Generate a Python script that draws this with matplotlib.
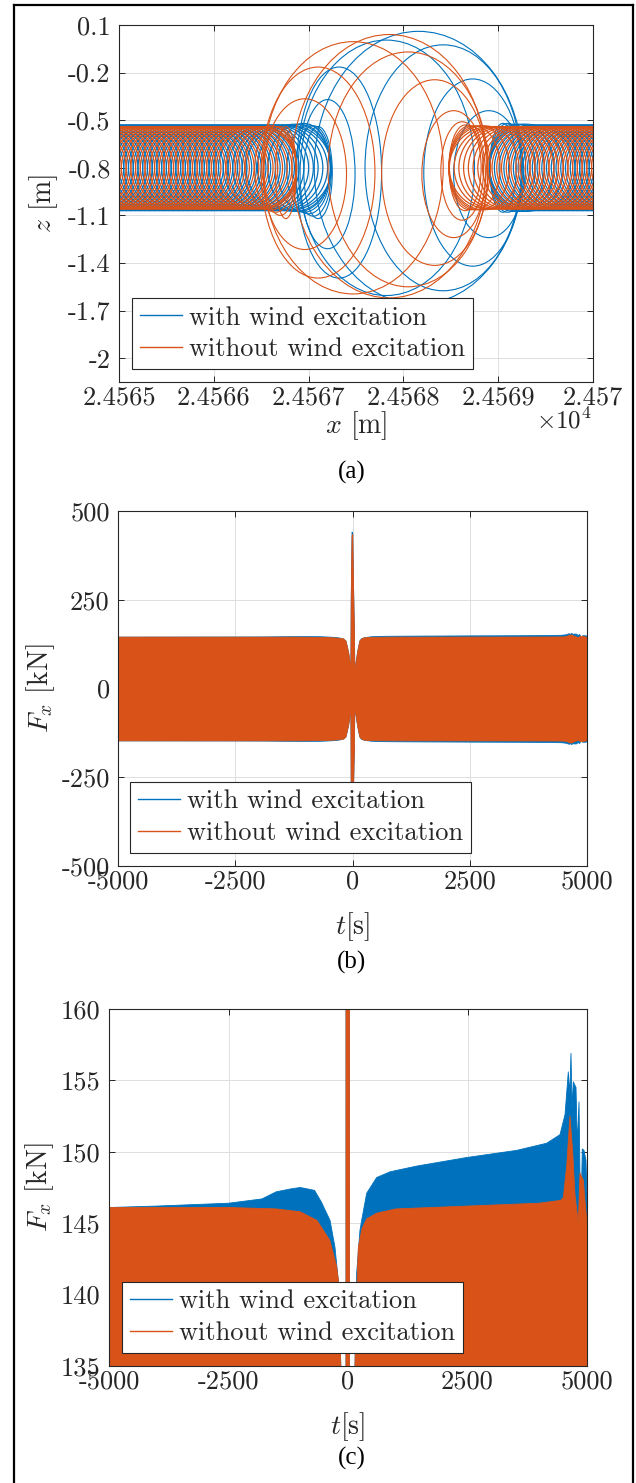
import matplotlib
matplotlib.use("Agg")
import matplotlib.pyplot as plt
from matplotlib.patches import Ellipse
from matplotlib.lines import Line2D

plt.rcParams['font.family'] = ['cmr10', 'DejaVu Serif']
plt.rcParams['mathtext.fontset'] = 'cm'
plt.rcParams['axes.unicode_minus'] = False
plt.rcParams['axes.formatter.use_mathtext'] = True

BLUE = '#0072BD'
RED = '#D95319'
INK = '#262626'
GRID = '#dedede'

# ---------------- (a) trajectory in the x-z plane ----------------
# orbits drawn as ellipses: centre x [m], width [m], height [m], centre z [m]
blue_tube_left_cx = [24564.55, 24564.60, 24564.65, 24564.70, 24564.75, 24564.80, 24564.85, 24564.90,
                     24564.95, 24565.00, 24565.05, 24565.10, 24565.15, 24565.20, 24565.25, 24565.30,
                     24565.35, 24565.40, 24565.45, 24565.50, 24565.55, 24565.60, 24565.65, 24565.70,
                     24565.75, 24565.80, 24565.85, 24565.90, 24565.95, 24566.00, 24566.05, 24566.10,
                     24566.15, 24566.20, 24566.25, 24566.30, 24566.35, 24566.40, 24566.45, 24566.50,
                     24566.55, 24566.60, 24566.65, 24566.70, 24566.75, 24566.79]
blue_tube_right_cx = [24569.36, 24569.41, 24569.46, 24569.51, 24569.56, 24569.61, 24569.66, 24569.71,
                      24569.76, 24569.81, 24569.86, 24569.91, 24569.96, 24570.01, 24570.06, 24570.11,
                      24570.16, 24570.21, 24570.26, 24570.31, 24570.36, 24570.41, 24570.46]
red_tube_left_cx = [24564.55, 24564.60, 24564.65, 24564.70, 24564.75, 24564.80, 24564.85, 24564.90,
                    24564.95, 24565.00, 24565.05, 24565.10, 24565.15, 24565.20, 24565.25, 24565.30,
                    24565.35, 24565.40, 24565.45, 24565.50, 24565.55, 24565.60, 24565.65, 24565.70,
                    24565.75, 24565.80, 24565.85, 24565.90, 24565.95, 24566.00, 24566.05, 24566.10,
                    24566.15, 24566.20, 24566.25, 24566.30, 24566.35, 24566.40, 24566.45]
red_tube_right_cx = [24568.91, 24568.96, 24569.01, 24569.06, 24569.11, 24569.16, 24569.21, 24569.26,
                     24569.31, 24569.36, 24569.41, 24569.46, 24569.51, 24569.56, 24569.61, 24569.66,
                     24569.71, 24569.76, 24569.81, 24569.86, 24569.91, 24569.96, 24570.01, 24570.06,
                     24570.11, 24570.16, 24570.21, 24570.26, 24570.31, 24570.36, 24570.41, 24570.46]
blue_tube_w, blue_tube_h = 0.90, 0.54
red_tube_w, red_tube_h = 0.85, 0.52
tube_cz = -0.80

blue_orbit_cx = [24566.85, 24566.90, 24566.95, 24567.00, 24567.05, 24567.10, 24567.20, 24567.32, 24567.82,
                 24568.16, 24568.42, 24568.73, 24568.90, 24569.05, 24569.10, 24569.15, 24569.20, 24569.25, 24569.30]
blue_orbit_w = [0.78, 0.66, 0.56, 0.46, 0.38, 0.30, 0.58, 0.90, 1.86,
                2.20, 1.65, 1.03, 0.74, 0.28, 0.38, 0.48, 0.58, 0.68, 0.78]
blue_orbit_h = [0.55, 0.55, 0.56, 0.56, 0.57, 0.58, 0.94, 1.33, 1.61,
                1.72, 1.55, 1.18, 0.80, 0.56, 0.56, 0.55, 0.55, 0.55, 0.55]
blue_orbit_cz = [-0.80, -0.80, -0.80, -0.81, -0.82, -0.83, -0.84, -0.83, -0.80,
                 -0.80, -0.80, -0.83, -0.84, -0.80, -0.80, -0.80, -0.80, -0.80, -0.80]

red_orbit_cx = [24566.50, 24566.55, 24566.60, 24566.65, 24566.70, 24566.76, 24566.96, 24567.10, 24567.47,
                24567.85, 24568.05, 24568.33, 24568.53, 24568.62, 24568.65, 24568.70, 24568.75, 24568.80, 24568.85]
red_orbit_w = [0.74, 0.64, 0.54, 0.44, 0.34, 0.22, 0.88, 1.20, 1.90,
               2.05, 1.69, 1.12, 0.67, 0.45, 0.34, 0.44, 0.54, 0.64, 0.74]
red_orbit_h = [0.52, 0.52, 0.53, 0.54, 0.56, 0.58, 0.95, 1.33, 1.59,
               1.66, 1.48, 1.17, 0.80, 0.62, 0.54, 0.53, 0.53, 0.53, 0.53]
red_orbit_cz = [-0.80, -0.80, -0.80, -0.81, -0.82, -0.83, -0.84, -0.83, -0.80,
                -0.79, -0.81, -0.83, -0.84, -0.82, -0.80, -0.80, -0.80, -0.80, -0.80]

xa_ticks = [24565, 24566, 24567, 24568, 24569, 24570]
xa_labels = ['2.4565', '2.4566', '2.4567', '2.4568', '2.4569', '2.457']
za_ticks = [0.1, -0.2, -0.5, -0.8, -1.1, -1.4, -1.7, -2.0]
za_labels = ['0.1', '-0.2', '-0.5', '-0.8', '-1.1', '-1.4', '-1.7', '-2']

# ---------------- (b), (c) horizontal force envelopes ----------------
blue_t = [-5000, -4000, -2500, -1800, -1500, -1200, -1000, -700, -560, -376, -272, -203, -150, -120,
          -90, -60, -45, -38, -20, -5, 10, 30, 38, 60, 100, 146, 181, 250, 286, 391, 600, 880, 1437,
          2483, 3529, 4156, 4435, 4540, 4609, 4640, 4665, 4690, 4714, 4770, 4798, 4833, 4868, 4902,
          4937, 4979, 5000]
blue_upper = [146.1, 146.2, 146.4, 146.7, 147.2, 147.4, 147.5, 147.3, 146.5, 145.2, 143.3, 141.0, 135.0,
              118.0, 100.0, 70.0, 60.0, 250.0, 442.0, 438.0, 300.0, 165.0, 60.0, 70.0, 105.0, 135.0,
              141.5, 144.5, 145.2, 147.1, 148.2, 148.6, 149.0, 149.6, 150.1, 150.6, 151.2, 152.6, 155.6,
              154.0, 156.9, 153.0, 154.9, 154.5, 150.5, 153.5, 144.6, 150.2, 150.1, 149.4, 147.0]
blue_lower = [-146.1, -146.2, -146.4, -146.7, -147.2, -147.4, -147.5, -147.3, -146.5, -145.2, -143.3,
              -141.0, -135.0, -118.0, -100.0, -70.0, -60.0, -290.0, -290.0, -290.0, -290.0, -165.0, -60.0,
              -70.0, -105.0, -135.0, -141.5, -144.5, -145.2, -147.1, -148.2, -148.6, -149.0, -149.6,
              -150.1, -150.6, -151.2, -152.6, -155.6, -154.0, -156.9, -153.0, -154.9, -154.5, -150.5,
              -153.5, -144.6, -150.2, -150.1, -149.4, -147.0]

red_t = [-5000, -2500, -1500, -1000, -650, -380, -240, -200, -150, -120, -90, -60, -45, -38, -20, -5,
         10, 30, 38, 60, 100, 146, 180, 216, 290, 390, 600, 1000, 2500, 4000, 4450, 4505, 4575, 4644,
         4700, 4749, 4818, 4853, 4923, 4960, 5000]
red_upper = [146.1, 146.1, 146.0, 145.8, 145.2, 143.8, 142.0, 141.0, 135.0, 118.0, 100.0, 70.0, 60.0,
             250.0, 430.0, 435.0, 300.0, 165.0, 60.0, 70.0, 105.0, 135.0, 140.0, 143.3, 144.6, 145.3,
             145.7, 146.0, 146.2, 146.4, 146.6, 146.8, 149.0, 152.5, 150.0, 147.0, 145.0, 148.5, 148.0,
             146.5, 145.0]
red_lower = [-146.1, -146.1, -146.0, -145.8, -145.2, -143.8, -142.0, -141.0, -135.0, -118.0, -100.0,
             -70.0, -60.0, -290.0, -290.0, -290.0, -290.0, -165.0, -60.0, -70.0, -105.0, -135.0, -140.0,
             -143.3, -144.6, -145.3, -145.7, -146.0, -146.2, -146.4, -146.6, -146.8, -149.0, -152.5,
             -150.0, -147.0, -145.0, -148.5, -148.0, -146.5, -145.0]

t_ticks = [-5000, -2500, 0, 2500, 5000]
t_labels = ['-5000', '-2500', '0', '2500', '5000']
fb_ticks = [-500, -250, 0, 250, 500]
fb_labels = ['-500', '-250', '0', '250', '500']
fc_ticks = [135, 140, 145, 150, 155, 160]
fc_labels = ['135', '140', '145', '150', '155', '160']

legend_labels = ['with wind excitation', 'without wind excitation']

W, H = 636, 1483
fig = plt.figure(figsize=(W / 100, H / 100), dpi=100)


def add_axes_px(left, top, right, bottom):
    return fig.add_axes([left / W, 1 - bottom / H, (right - left) / W, (bottom - top) / H])


def style_axes(ax):
    ax.set_axisbelow(True)
    ax.grid(True, color=GRID, lw=0.7)
    for s in ax.spines.values():
        s.set_color(INK)
        s.set_linewidth(0.8)
    ax.tick_params(direction='in', length=4, width=0.7, color=INK, labelcolor=INK,
                   labelsize=19, top=True, right=True)
    ax.tick_params(axis='x', pad=3)
    ax.tick_params(axis='y', pad=6)


def add_legend(ax, x, y):
    handles = [Line2D([], [], color=BLUE, lw=1.0), Line2D([], [], color=RED, lw=1.0)]
    leg = ax.legend(handles, legend_labels, loc='lower left', bbox_to_anchor=(x, y),
                    fontsize=19, frameon=True, fancybox=False, framealpha=1,
                    edgecolor=INK, handlelength=1.6, handletextpad=0.25,
                    borderpad=0.3, labelspacing=0.3, borderaxespad=0)
    leg.get_frame().set_linewidth(0.8)
    for txt in leg.get_texts():
        txt.set_color(INK)


# (a)
ax = add_axes_px(119, 25, 593, 382)
style_axes(ax)
for cx in blue_tube_left_cx + blue_tube_right_cx:
    ax.add_patch(Ellipse((cx, tube_cz), blue_tube_w, blue_tube_h, fill=False, ec=BLUE, lw=0.9))
for cx, w, h, cz in zip(blue_orbit_cx, blue_orbit_w, blue_orbit_h, blue_orbit_cz):
    ax.add_patch(Ellipse((cx, cz), w, h, fill=False, ec=BLUE, lw=0.8))
for cx in red_tube_left_cx + red_tube_right_cx:
    ax.add_patch(Ellipse((cx, tube_cz), red_tube_w, red_tube_h, fill=False, ec=RED, lw=0.9))
for cx, w, h, cz in zip(red_orbit_cx, red_orbit_w, red_orbit_h, red_orbit_cz):
    ax.add_patch(Ellipse((cx, cz), w, h, fill=False, ec=RED, lw=0.8))
ax.set_xlim(24565, 24570)
ax.set_ylim(-2.15, 0.1)
ax.set_xticks(xa_ticks)
ax.set_xticklabels(xa_labels)
ax.set_yticks(za_ticks)
ax.set_yticklabels(za_labels)
ax.set_xlabel(r'$x$ [m]', fontsize=20, color=INK)
ax.set_ylabel(r'$z$ [m]', fontsize=20, color=INK)
ax.xaxis.set_label_coords(0.5, -0.075)
ax.yaxis.set_label_coords(-0.124, 0.5)
add_legend(ax, 0.027, 0.036)
fig.text(592 / W, 1 - 421 / H, r'$\times10^{4}$', ha='right', va='center', fontsize=18, color=INK)

# (b)
ax = add_axes_px(118, 511, 587, 866)
style_axes(ax)
ax.fill_between(blue_t, blue_lower, blue_upper, color=BLUE, lw=0.6)
ax.fill_between(red_t, red_lower, red_upper, color=RED, lw=0.6)
ax.set_xlim(-5000, 5000)
ax.set_ylim(-500, 500)
ax.set_xticks(t_ticks)
ax.set_xticklabels(t_labels)
ax.set_yticks(fb_ticks)
ax.set_yticklabels(fb_labels)
ax.set_xlabel(r'$t$[s]', fontsize=20, color=INK)
ax.set_ylabel(r'$F_x$ [kN]', fontsize=20, color=INK)
ax.xaxis.set_label_coords(0.5, -0.125)
ax.yaxis.set_label_coords(-0.130, 0.5)
add_legend(ax, 0.026, 0.037)

# (c)
ax = add_axes_px(109, 1009, 587, 1366)
style_axes(ax)
ax.fill_between(blue_t, blue_lower, blue_upper, color=BLUE, lw=0.6)
ax.fill_between(red_t, red_lower, red_upper, color=RED, lw=0.6)
ax.set_xlim(-5000, 5000)
ax.set_ylim(135, 160)
ax.set_xticks(t_ticks)
ax.set_xticklabels(t_labels)
ax.set_yticks(fc_ticks)
ax.set_yticklabels(fc_labels)
ax.set_xlabel(r'$t$[s]', fontsize=20, color=INK)
ax.set_ylabel(r'$F_x$ [kN]', fontsize=20, color=INK)
ax.xaxis.set_label_coords(0.5, -0.125)
ax.yaxis.set_label_coords(-0.111, 0.5)
add_legend(ax, 0.027, 0.037)

# panel captions
for label, ypx in [('(a)', 472), ('(b)', 962), ('(c)', 1458)]:
    fig.text(352 / W, 1 - ypx / H, label, ha='center', va='center',
             fontsize=18, family=['Liberation Serif', 'DejaVu Serif'], color='black')

# frame around the figure
for xs, ys in [([14.5, 14.5], [5, 1490]), ([14.5, 633], [5, 5]), ([633, 633], [5, 1490])]:
    fig.add_artist(Line2D([x / W for x in xs], [1 - y / H for y in ys],
                          transform=fig.transFigure, color='black', lw=1.6))

fig.savefig('out.png', dpi=100)
